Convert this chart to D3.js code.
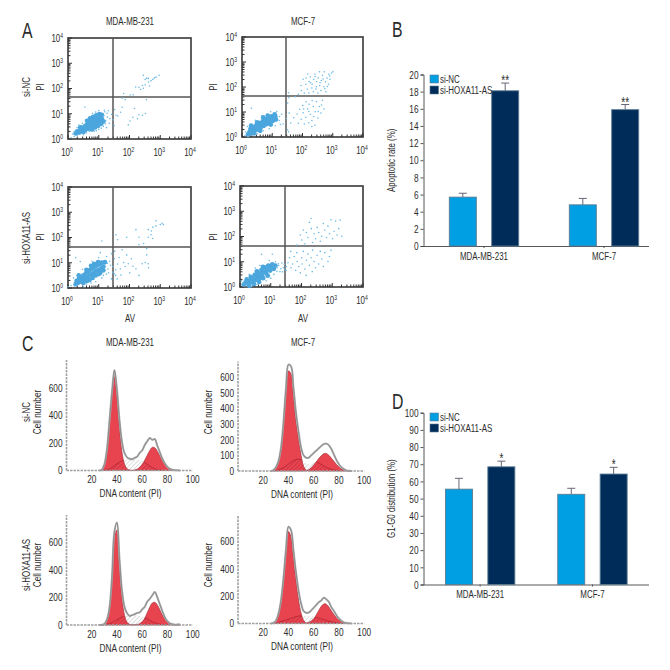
<!DOCTYPE html>
<html><head><meta charset="utf-8">
<script src="https://cdn.jsdelivr.net/npm/d3@7"></script>
<style>
html,body{margin:0;padding:0;background:#fff}
text{font-family:"Liberation Sans",sans-serif;fill:#2b2b2b}
</style></head><body><svg id="c" width="670" height="670"></svg>
<script>
// ---------- Panel A: flow cytometry, values in log10 decades [AV, PI]
const a1Core=[[.25,.22],[.3,.3],[.35,.25],[.4,.35],[.45,.3],[.45,.45],[.5,.4],[.55,.5],[.55,.35],[.6,.55],[.6,.45],[.65,.4],[.65,.6],[.7,.5],[.7,.65],[.75,.55],[.75,.7],[.8,.6],[.8,.45],[.85,.75],[.85,.6],[.9,.7],[.9,.55],[.95,.8],[.95,.65],[1,.75],[1,.6],[1.05,.85],[1.05,.7],[1.1,.8],[1.1,.95],[1.15,.7],[.62,.72],[.72,.82],[.82,.88],[.92,.93],[1.02,.98],[.78,.38],[.88,.46],[.98,.52],[1.08,.6],[.5,.28],[.4,.46]];
const a1Sparse=[[.1,.05],[.15,.2],[.2,.1],[.2,.3],[.3,.15],[.3,.45],[.4,.2],[.35,.55],[.5,.17],[.47,.62],[.6,.25],[.55,1.27],[.7,.3],[.8,1.02],[.85,.31],[.9,1.07],[1,.38],[1,1.13],[1.15,.5],[1.2,1.08],[1.23,.72],[1.28,.87],[1.31,1.12],[1.34,.62],[1.42,.97],[1.47,.76],[1.52,1.17],[1.5,.53],[1.56,.94],[1.17,.92],[1.21,.6],[1.27,1.02],[1.36,.8],[1.08,.43],[.92,.33],[1.18,1.15],[1.25,.45],[2.45,2.52],[2.51,2.36],[2.56,2.41],[2.62,2.26],[2.7,2.31],[2.76,2.36],[2.86,2.45],[2.96,2.52],[2.81,2.42],[2.61,2.4],[2.65,2.1],[2.31,2.05],[2.2,2.06],[2.42,2.12],[2.45,2.01],[2.51,2.15],[2.36,1.96],[2.12,1.75],[2.02,1.74],[1.81,1.8],[1.76,1.62],[1.86,1.56],[2.55,1.56],[2.16,1.21],[2.31,.96],[2.42,.94],[2.52,1.01],[2.11,.86],[2.02,.71],[1.96,.56],[2.26,.8],[1.76,1.26],[1.71,1.06],[1.62,.91]];
const a2Core=[[.25,.2],[.28,.32],[.32,.15],[.35,.28],[.38,.4],[.42,.25],[.45,.35],[.48,.48],[.52,.3],[.55,.42],[.58,.55],[.62,.38],[.65,.5],[.68,.62],[.72,.45],[.75,.58],[.78,.7],[.82,.52],[.85,.65],[.88,.75],[.92,.58],[.95,.7],[.98,.82],[1.02,.65],[1.05,.78],[1.08,.9],[1.12,.7],[.4,.15],[.6,.25],[.3,.45],[.5,.58],[.7,.78],[.85,.85],[.95,.5],[1.1,.82],[.2,.1]];
const a2Sparse=[[.1,.05],[.12,.2],[.2,.03],[.18,.42],[.31,1.15],[.5,.13],[.44,.67],[.7,.25],[.65,.85],[.9,.33],[.95,1.01],[1.1,.45],[1.15,1.02],[1.23,.66],[1.31,.91],[1.36,.52],[1.24,.82],[1.27,.5],[1.46,.74],[1.51,.29],[1.56,.96],[1.61,.56],[1.54,.21],[1.51,1.36],[1.55,1.57],[1.54,1.77],[1.71,.77],[1.82,.92],[1.86,.55],[1.91,1.11],[1.96,.71],[2.01,1.26],[2.02,.97],[2.06,.52],[2.12,1.41],[2.11,.79],[2.17,1.12],[2.21,.57],[2.22,1.31],[2.26,.91],[2.32,1.46],[2.31,.66],[2.36,1.22],[2.41,.47],[2.42,1.01],[2.46,1.41],[2.51,.76],[2.56,1.22],[2.61,.96],[2.66,1.47],[2.71,1.12],[2.31,.42],[2.04,1.12],[2.37,.82],[2.52,1.02],[2.63,1.28],[2.21,1.02],[1.76,1.61],[1.86,1.71],[1.96,1.86],[1.95,2.06],[2.02,2.31],[2.06,1.76],[2.11,2.11],[2.12,2.36],[2.16,1.91],[2.17,2.52],[2.21,1.76],[2.22,2.22],[2.26,2.41],[2.31,1.96],[2.32,2.11],[2.36,1.81],[2.37,2.31],[2.41,2.52],[2.46,2.01],[2.47,2.21],[2.51,1.76],[2.52,2.36],[2.56,2.61],[2.57,2.06],[2.61,1.86],[2.62,2.26],[2.66,2.46],[2.71,2.01],[2.72,2.61],[2.76,2.21],[2.77,1.81],[2.81,2.36],[2.86,2.11],[2.87,2.51],[2.96,2.56],[3.01,2.61],[2.91,2.31],[2.42,2.42],[2.58,2.17],[2.68,2.32],[2.82,2.02],[2.9,2.44],[2.27,2.17],[2.44,1.92],[2.74,1.93]];
const a3Core=[[.25,.15],[.28,.28],[.32,.2],[.35,.35],[.4,.25],[.42,.42],[.48,.3],[.5,.5],[.55,.38],[.58,.58],[.62,.42],[.65,.65],[.7,.5],[.72,.72],[.78,.55],[.8,.78],[.85,.62],[.88,.85],[.92,.68],[.95,.9],[1,.72],[1.02,.95],[1.08,.78],[1.1,1],[1.15,.85],[.5,.2],[.7,.32],[.9,.5],[1.05,.6],[.35,.5],[.6,.72],[.75,.88],[.85,.95],[.98,1.02],[.8,.4],[.62,.28],[1,.55],[1.15,.7],[1.2,1.02]];
const a3Sparse=[[0,.05],[.1,.1],[.2,.08],[.18,.4],[.25,1.2],[.4,1.05],[.5,.05],[.47,.74],[.6,.16],[.75,.2],[.78,1.06],[.9,.25],[1,1.2],[1.05,1.4],[1.1,.4],[1.28,.97],[1.25,.55],[1.26,1.25],[1.3,.75],[1.35,1.06],[1.41,.36],[1.42,1.36],[1.46,.85],[1.5,.56],[1.51,1.16],[1.52,1.46],[1.55,.72],[1.61,.95],[1.6,.36],[1.66,1.21],[1.7,.76],[1.72,.51],[1.76,1.51],[1.81,1.01],[1.86,.85],[1.91,1.31],[1.96,.96],[2.01,.6],[2.06,1.16],[2.11,.86],[2.21,.76],[2.31,1.71],[2.31,.5],[2.41,.96],[2.51,1.01],[2.56,1.31],[2.61,.96],[2.62,.8],[2.56,1.56],[2.46,1.76],[1.1,1.86],[1.56,2.11],[1.61,1.91],[1.91,2.01],[2.21,2.31],[2.31,2.01],[2.61,2.31],[2.71,2.26],[2.76,2.41],[2.61,2.01],[2.75,1.96],[2.86,2.46],[3,2.51],[3.06,2.56],[3.1,2.51],[2.86,2.66],[2.7,2.11],[1.32,.6],[1.38,.9],[1.45,.62],[1.55,.5],[1.22,.85],[1.15,.5]];
const a4Core=[[.18,.18],[.22,.3],[.28,.12],[.32,.25],[.35,.4],[.4,.2],[.42,.32],[.48,.48],[.5,.28],[.55,.42],[.58,.58],[.62,.35],[.65,.52],[.7,.68],[.72,.45],[.78,.6],[.8,.78],[.85,.55],[.88,.7],[.92,.85],[.98,.65],[1,.8],[1.05,.9],[1.1,.72],[.45,.12],[.62,.2],[.75,.35],[.3,.05],[.55,.62],[.75,.8],[.9,.45],[1.15,.85],[.12,.1]];
const a4Sparse=[[.05,.25],[.1,.15],[.2,.05],[.3,.5],[.37,.02],[.55,.1],[.5,.75],[.65,.85],[.7,1.3],[.85,.25],[.95,1.05],[1,.35],[1.05,1.3],[1.1,.5],[1.15,1],[1.21,.76],[1.26,.85],[1.3,.61],[1.36,.95],[1.41,.76],[1.46,.71],[1.51,.81],[1.56,.96],[1.61,1.16],[1.66,.76],[1.65,1.41],[1.71,.91],[1.76,1.21],[1.81,.66],[1.86,1.01],[1.85,1.36],[1.91,.81],[1.96,.56],[2.01,1.16],[2.02,.91],[2.06,1.41],[2.11,.71],[2.16,1.06],[2.15,.46],[2.21,1.31],[2.26,.86],[2.31,1.16],[2.36,1.46],[2.35,.61],[2.41,1.01],[2.46,.76],[2.51,1.26],[2.56,.91],[2.61,1.41],[2.66,1.11],[2.71,.81],[2.76,1.36],[2.86,1.01],[2.91,1.21],[2.96,1.46],[1.25,.92],[1.33,.72],[1.2,.62],[1.38,.6],[1.44,.9],[1.5,.65],[1.85,1.66],[1.96,2.06],[2.01,1.86],[2.06,2.26],[2.11,1.71],[2.16,2.16],[2.21,1.96],[2.26,2.56],[2.31,2.71],[2.32,2.31],[2.36,1.76],[2.41,2.11],[2.46,1.91],[2.51,2.36],[2.56,2.16],[2.61,1.81],[2.66,2.01],[2.71,2.51],[2.76,2.26],[2.81,1.96],[2.86,2.41],[2.91,2.11],[2.96,2.66],[3.01,1.91],[3.06,2.21],[3.11,2.61],[3.16,2.06],[3.21,2.31],[3.26,2.65],[3.31,2.01]];
const decadeLabels=[0,1,2,3,4];

// ---------- Panel C: DNA content histograms (x = 26,28,...,90)
const dnaX=[26,28,30,32,34,36,38,40,42,44,46,48,50,52,54,56,58,60,62,64,66,68,70,72,74,76,78,80,82,84,86,88,90];
const c1G1=[0,5,40,140,340,540,680,530,300,130,45,12,3,0,0,0,0,0,0,0,0,0,0,0,0,0,0,0,0,0,0,0,0];
const c1S=[0,0,2,6,12,20,35,48,60,70,76,80,82,82,80,78,74,68,58,45,32,20,12,6,3,1,0,0,0,0,0,0,0];
const c1G2=[0,0,0,0,0,0,0,0,0,0,0,0,0,0,3,10,24,45,75,110,145,168,165,140,105,70,42,22,10,3,1,0,0];
const c1T=[0,6,44,150,355,565,728,585,365,205,125,95,85,82,92,100,128,146,185,212,236,222,228,178,132,85,50,25,12,5,2,1,0];
const c2G1=[0,5,20,55,130,290,500,640,620,470,310,200,100,30,6,0,0,0,0,0,0,0,0,0,0,0,0,0,0,0,0,0,0];
const c2S=[0,0,3,8,14,22,32,44,56,66,73,76,72,60,48,45,50,55,58,52,42,32,24,17,11,7,4,2,0,0,0,0,0];
const c2G2=[0,0,0,0,0,0,0,0,0,0,0,0,0,0,2,8,20,38,58,80,98,110,112,100,82,62,42,26,14,6,2,0,0];
const c2T=[0,6,24,62,145,310,530,680,670,530,370,250,150,100,85,85,100,115,130,145,160,172,175,165,140,105,70,42,24,12,4,1,0];
const c3G1=[0,0,4,30,110,320,640,690,430,190,70,20,5,1,0,0,0,0,0,0,0,0,0,0,0,0,0,0,0,0,0,0,0];
const c3S=[0,0,0,4,10,18,28,38,50,58,64,68,70,70,70,68,66,62,54,45,34,24,16,10,6,3,1,0,0,0,0,0,0];
const c3G2=[0,0,0,0,0,0,0,0,0,0,0,0,0,0,1,4,10,24,50,90,130,160,165,145,110,72,42,20,8,2,0,0,0];
const c3T=[0,2,8,40,125,345,680,745,480,250,130,85,66,72,78,88,92,114,132,170,190,216,240,200,150,100,55,28,12,6,2,4,5];
const c4G1=[0,2,15,60,150,310,510,670,630,480,310,170,75,22,4,0,0,0,0,0,0,0,0,0,0,0,0,0,0,0,0,0,0];
const c4S=[0,0,3,8,14,20,26,32,38,44,50,54,56,56,55,54,52,50,45,40,34,28,22,17,12,8,5,3,1,0,0,0,0];
const c4G2=[0,0,0,0,0,0,0,0,0,0,0,0,0,0,2,8,18,35,62,95,125,142,140,120,92,65,42,25,13,5,1,0,0];
const c4T=[0,4,20,70,165,330,540,705,680,530,370,240,145,90,78,80,95,115,135,155,168,188,176,158,118,92,60,36,20,8,3,1,0];

// ---------- Panels B and D: bars
const groups=["MDA-MB-231","MCF-7"];
const seriesNames=["si-NC","si-HOXA11-AS"];
const apoptosisNC=[5.7,4.8], apoptosisKD=[18.1,15.9];
const apoptosisNCErr=[6.15,5.55], apoptosisKDErr=[19.0,16.5];
const g1NC=[55.5,52.5], g1KD=[68.5,64.3];
const g1NCErr=[61.8,56], g1KDErr=[71.8,68.2];

const svg=d3.select("#c");
const defs=svg.append("defs");
function hatch(id,color,w){
  const p=defs.append("pattern").attr("id",id).attr("width",3).attr("height",3)
    .attr("patternUnits","userSpaceOnUse").attr("patternTransform","rotate(45)");
  p.append("line").attr("x1",0).attr("x2",0).attr("y1",0).attr("y2",3).attr("stroke",color).attr("stroke-width",w);
}
hatch("hGray","#c4c4c4",1.2); hatch("hRed","#b8283a",1);

function txt(x,y,s,o={}){
  const t=svg.append("text").attr("x",x).attr("y",y).text(s)
    .attr("font-size",o.size||11).attr("text-anchor",o.anchor||"middle");
  if(o.rot) t.attr("data-rot",1);
  return t;
}
function letter(s,x,y){txt(x,y,s,{size:22,anchor:"start"});}
letter("A",22,38);letter("B",392,37);letter("C",22,351);letter("D",392,409);

// ---- flow plots
function flow(o){
  const x=d3.scaleLinear().domain([0,4]).range([o.x0,o.x1]);
  const y=d3.scaleLinear().domain([0,4]).range([o.y1,o.y0]);
  const g=svg.append("g");
  g.append("rect").attr("x",o.x0).attr("y",o.y0).attr("width",o.x1-o.x0).attr("height",o.y1-o.y0)
   .attr("fill","#fff").attr("stroke","#444").attr("stroke-width",1.7);
  const minor=[];
  decadeLabels.slice(0,4).forEach(d=>d3.range(1,10).forEach(k=>minor.push({v:d+Math.log10(k),major:k===1})));
  minor.push({v:4,major:true});
  minor.forEach(m=>{
    g.append("line").attr("x1",x(m.v)).attr("x2",x(m.v)).attr("y1",o.y1).attr("y2",o.y1-(m.major?4:2.5)).attr("stroke","#333").attr("stroke-width",1);
    g.append("line").attr("y1",y(m.v)).attr("y2",y(m.v)).attr("x1",o.x0).attr("x2",o.x0+(m.major?4:2.5)).attr("stroke","#333").attr("stroke-width",1);
  });
  g.append("line").attr("x1",o.qx).attr("x2",o.qx).attr("y1",o.y0).attr("y2",o.y1).attr("stroke","#555").attr("stroke-width",1.5);
  g.append("line").attr("x1",o.x0).attr("x2",o.x1).attr("y1",o.qy).attr("y2",o.qy).attr("stroke","#555").attr("stroke-width",1.5);
  g.selectAll(".core").data(o.core).join("circle").attr("cx",d=>x(d[0])).attr("cy",d=>y(d[1])).attr("r",2.4).attr("fill","#4ba6dd");
  g.selectAll(".sp").data(o.sparse).join("circle").attr("cx",d=>x(d[0])).attr("cy",d=>y(d[1])).attr("r",.8).attr("fill","#6dbbe6");
  decadeLabels.forEach(d=>{
    const t=txt(x(d)-1,o.y1+17,"10",{size:11});
    t.append("tspan").attr("font-size",7).attr("dy",-4).text(d);
    const u=txt(o.x0-5,y(d)+4,"10",{size:11,anchor:"end"});
    u.append("tspan").attr("font-size",7).attr("dy",-4).text(d);
  });
}
flow({x0:68,x1:191,y0:38,y1:139,qx:113,qy:97,core:a1Core,sparse:a1Sparse});
flow({x0:242,x1:363,y0:37,y1:137,qx:286,qy:96,core:a2Core,sparse:a2Sparse});
flow({x0:68,x1:191,y0:187,y1:288,qx:113,qy:247,core:a3Core,sparse:a3Sparse});
flow({x0:240,x1:363,y0:186,y1:287,qx:285,qy:246,core:a4Core,sparse:a4Sparse});
txt(130,25,"MDA-MB-231");txt(303,25,"MCF-7");
txt(30,87,"si-NC",{rot:1});txt(44,87,"PI",{rot:1});txt(217,87,"PI",{rot:1});
txt(30,238,"si-HOXA11-AS",{rot:1});txt(44,237,"PI",{rot:1});txt(217,237,"PI",{rot:1});
txt(130,322,"AV",{size:11});txt(303,322,"AV",{size:11});

// ---- DNA histograms
let hid=0;
function hist(o){
  const x=d3.scaleLinear().domain([0,100]).range([o.x0,o.x0+126.2]);
  const y=d3.scaleLinear().domain([0,o.vmax]).range([o.base,o.top]);
  const g=svg.append("g");
  const rows=dnaX.map((v,i)=>({x:v,g1:o.g1[i],s:o.s[i],g2:o.g2[i],t:o.t[i]}));
  const area=k=>d3.area().curve(d3.curveCatmullRom.alpha(.5)).x(d=>x(d.x)).y0(y(0)).y1(d=>y(d[k]))(rows);
  const line=k=>d3.line().curve(d3.curveCatmullRom.alpha(.5)).x(d=>x(d.x)).y(d=>y(d[k]))(rows);
  const id="clip"+(hid++);
  const cp=defs.append("clipPath").attr("id",id);
  cp.append("path").attr("d",area("g1"));cp.append("path").attr("d",area("g2"));
  g.append("path").attr("d",area("s")).attr("fill","url(#hGray)");
  ["g1","g2"].forEach(k=>g.append("path").attr("d",area(k)).attr("fill","#e8444f"));
  g.append("path").attr("d",area("s")).attr("fill","url(#hRed)").attr("clip-path",`url(#${id})`);
  g.append("path").attr("d",line("s")).attr("fill","none").attr("stroke","#a11c2b").attr("stroke-width",.6).attr("clip-path",`url(#${id})`);
  ["g1","g2"].forEach(k=>g.append("path").attr("d",line(k)).attr("fill","none").attr("stroke","#a5323c").attr("stroke-width",.7));
  g.append("path").attr("d",line("t")).attr("fill","none").attr("stroke","#adadad").attr("stroke-width",2);
  g.append("path").attr("d",line("t")).attr("fill","none").attr("stroke","#777").attr("stroke-width",.6);
  g.append("line").attr("x1",x(0)).attr("x2",x(100)).attr("y1",y(0)).attr("y2",y(0)).attr("stroke","#a0a0a0").attr("stroke-width",1.6).attr("stroke-dasharray","2.5 1");
  g.append("line").attr("x1",x(0)).attr("x2",x(0)).attr("y1",y(0)).attr("y2",o.top).attr("stroke","#a0a0a0").attr("stroke-width",1.6).attr("stroke-dasharray","2.5 1");
  [20,40,60,80,100].forEach(v=>txt(x(v),o.base+13,v,{size:11.5}));
  o.yt.forEach(v=>txt(x(0)-4,y(v)+4,v,{size:11.5,anchor:"end"}));
  txt(x(0)+64,o.base+27,"DNA content (PI)",{size:11.5});
  txt(x(0)-25.5,o.lab,"Cell number",{size:11.5,rot:1});
}
hist({x0:66.5,base:470.5,top:360,vmax:800,yt:[0,200,400,600],lab:412,g1:c1G1,s:c1S,g2:c1G2,t:c1T});
hist({x0:238,base:471,top:361.5,vmax:700,yt:[0,100,200,300,400,500,600],lab:412,g1:c2G1,s:c2S,g2:c2G2,t:c2T});
hist({x0:66.5,base:625,top:515,vmax:800,yt:[0,200,400,600],lab:565,g1:c3G1,s:c3S,g2:c3G2,t:c3T});
hist({x0:238,base:623.5,top:515,vmax:790,yt:[0,200,400,600],lab:565,g1:c4G1,s:c4S,g2:c4G2,t:c4T});
txt(130,346,"MDA-MB-231");txt(303,346,"MCF-7");
txt(30,412,"si-NC",{rot:1});txt(30,565,"si-HOXA11-AS",{rot:1});

// ---- bars
const barColors=["#009fe3","#002c5a"];
function bars(o){
  const gx=d3.scaleBand().domain(groups).range(o.range);
  const bx=d3.scaleBand().domain(seriesNames).range([-34.7,34.7]).paddingInner(.363);
  const y=d3.scaleLinear().domain([0,o.max]).range([o.y0,o.y1]);
  const g=svg.append("g");
  const ax=g.append("g").attr("transform",`translate(423.5,0)`).call(d3.axisLeft(y).tickValues(d3.range(0,o.max+1,o.step)).tickSize(3).tickFormat(d3.format("d")));
  ax.attr("font-family",null);
  ax.selectAll("text").attr("font-size",11.5).attr("x",-5);
  ax.selectAll("line,path").attr("stroke","#444").attr("stroke-width",.9);
  const bt=g.append("g").attr("transform",`translate(0,${o.y0})`).call(d3.axisBottom(gx).tickSize(2).tickFormat(""));
  bt.selectAll("line,path").attr("stroke","#444").attr("stroke-width",.9);
  bt.select("path.domain").attr("d",`M423.5,0.5H${o.xEnd}`);
  groups.forEach((gr,i)=>{
    seriesNames.forEach((sn,j)=>{
      const bxv=gx(gr)+gx.bandwidth()/2+bx(sn);
      const w=bx.bandwidth(),v=o.vals[j][i],e=o.errs[j][i];
      g.append("line").attr("x1",bxv+w/2).attr("x2",bxv+w/2).attr("y1",y(v)).attr("y2",y(e)).attr("stroke","#667").attr("stroke-width",1);
      g.append("line").attr("x1",bxv+w/2-4).attr("x2",bxv+w/2+4).attr("y1",y(e)).attr("y2",y(e)).attr("stroke","#667").attr("stroke-width",1);
      g.append("rect").attr("x",bxv).attr("y",y(v)).attr("width",w).attr("height",y(0)-y(v))
        .attr("fill",barColors[j]).attr("stroke","#5b7c92").attr("stroke-width",.9);
      if(j===1) txt(bxv+w/2,y(e)+o.starDy,o.star,{size:14});
    });
    txt(gx(gr)+gx.bandwidth()/2,o.y0+14,gr,{size:11});
  });
  seriesNames.forEach((sn,j)=>{
    g.append("rect").attr("x",430).attr("y",o.legY+j*11).attr("width",8.5).attr("height",8).attr("fill",barColors[j]).attr("stroke","#5b7c92").attr("stroke-width",.6);
    txt(440,o.legY+j*11+8,sn,{size:11,anchor:"start"});
  });
  txt(395,(o.y0+o.y1)/2,o.title,{size:11,rot:1});
}
bars({range:[424,664],max:20,step:2,y0:246,y1:74.5,vals:[apoptosisNC,apoptosisKD],errs:[apoptosisNCErr,apoptosisKDErr],star:"**",starDy:2,legY:75,title:"Apoptotic rate (%)",xEnd:649});
bars({range:[424,648.6],max:100,step:10,y0:584.5,y1:412.7,vals:[g1NC,g1KD],errs:[g1NCErr,g1KDErr],star:"*",starDy:2,legY:413,title:"G1-G0 distribution (%)",xEnd:649});

// condensed lettering, as in the reference: squeeze each text about its own anchor
svg.selectAll("text").each(function(){
  const s=d3.select(this), x=+s.attr("x")||0, y=+s.attr("y")||0;
  const rot=s.attr("data-rot")?`rotate(-90 ${x} ${y}) `:"";
  s.attr("transform",`${rot}translate(${x} ${y}) scale(.72 1) translate(${-x} ${-y})`);
});
</script></body></html>
